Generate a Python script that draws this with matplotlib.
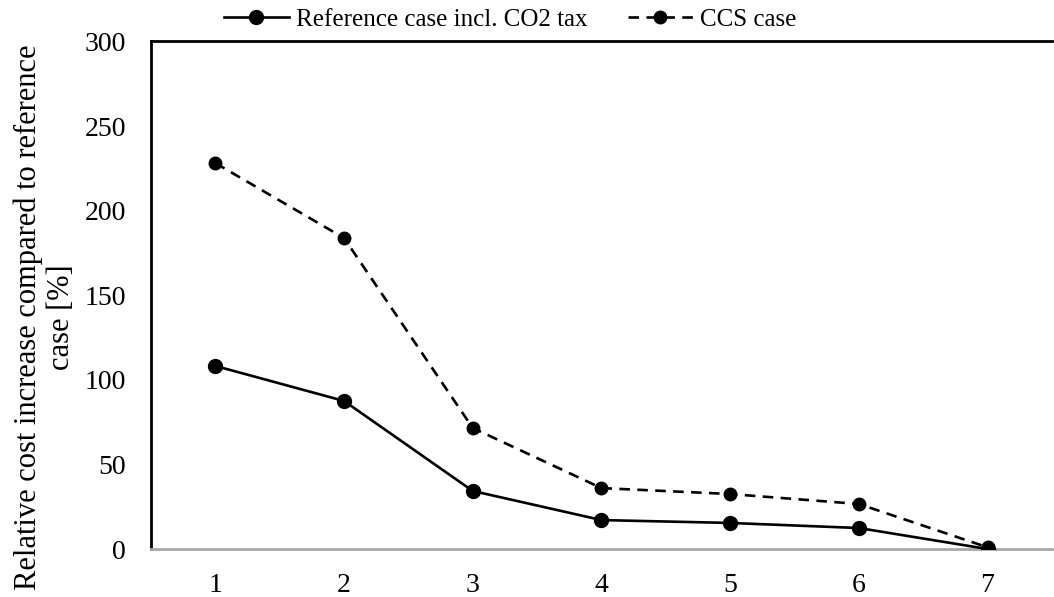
import numpy as np
import matplotlib.pyplot as plt

plt.rcParams['font.family'] = ['Liberation Serif', 'DejaVu Serif']

# values
cases = [1, 2, 3, 4, 5, 6, 7]
ref_tax = [108.2, 87.5, 34.3, 17.1, 15.4, 12.4, 0.0]
ccs = [228.1, 183.8, 71.5, 36.0, 32.5, 26.6, 1.0]
y_ticks = [0, 50, 100, 150, 200, 250, 300]

fig = plt.figure(figsize=(10.54, 5.97), dpi=100)
ax = fig.add_axes([0.1433, 0.0804, 0.8547, 0.8501])

x = np.arange(len(cases))
ax.plot(x, ref_tax, color='black', lw=1.9, marker='o', markersize=10,
        label='Reference case incl. CO2 tax', zorder=3)
ax.plot(x, ccs, color='black', lw=1.9, marker='o', markersize=9,
        dashes=(4, 2.8), label='CCS case', zorder=3)

ax.set_xlim(-0.5, len(cases) - 0.5)
ax.set_ylim(0, 300)
ax.set_xticks(x)
ax.set_xticklabels([str(c) for c in cases])
ax.set_yticks(y_ticks)
ax.tick_params(axis='both', length=0, labelsize=20)
ax.tick_params(axis='y', pad=18)
ax.tick_params(axis='x', pad=17)

ax.spines['right'].set_visible(False)
ax.spines['left'].set_linewidth(2)
ax.spines['top'].set_linewidth(2)
ax.spines['bottom'].set_color('#a8a8a8')
ax.spines['bottom'].set_linewidth(2)

ax.set_ylabel('Relative cost increase compared to reference\ncase [%]',
              fontsize=22, linespacing=1.2)
ax.yaxis.set_label_coords(-0.083, 0.457)

fig.legend(loc='center', bbox_to_anchor=(0.484, 0.967), ncol=2,
           frameon=False, fontsize=18, handlelength=2.6, columnspacing=1.6,
           handletextpad=0.3, borderaxespad=0, borderpad=0)

fig.savefig('out.png', dpi=100)
